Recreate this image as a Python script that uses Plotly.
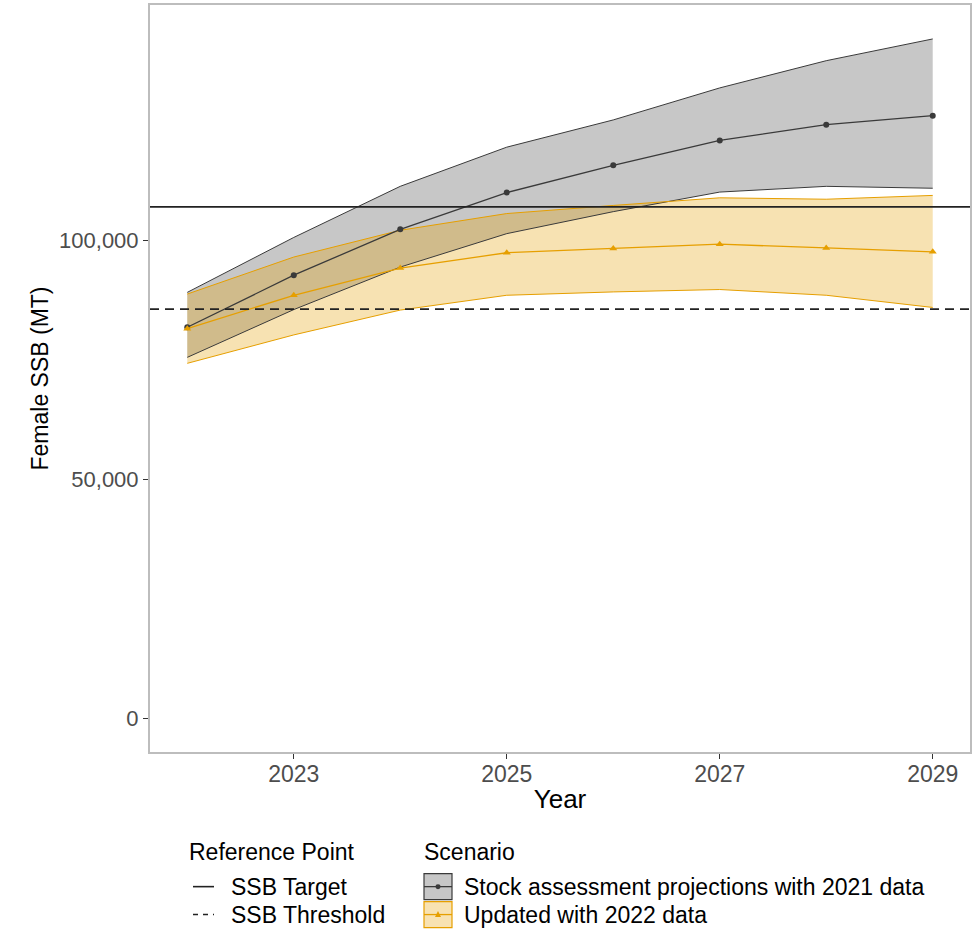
import plotly.graph_objects as go

# Projection years
years = [2022, 2023, 2024, 2025, 2026, 2027, 2028, 2029]

# Stock assessment projections with 2021 data (female SSB, MT)
ssb_2021_median = [81800, 92700, 102300, 110000, 115700, 120900, 124200, 126100]
ssb_2021_lower = [75500, 85500, 94400, 101400, 106000, 110100, 111300, 110900]
ssb_2021_upper = [89100, 100600, 111300, 119500, 125200, 131900, 137600, 142150]

# Updated with 2022 data
ssb_2022_median = [81500, 88500, 94200, 97400, 98300, 99200, 98400, 97600]
ssb_2022_lower = [74250, 80200, 85400, 88500, 89200, 89700, 88500, 85950]
ssb_2022_upper = [88750, 96500, 102100, 105600, 107300, 108900, 108600, 109400]

# Reference points
ssb_target = 107000
ssb_threshold = 85600

x_ticks = [2023, 2025, 2027, 2029]
y_ticks = [0, 50000, 100000]

scenario_names = ["Stock assessment projections with 2021 data", "Updated with 2022 data"]
ref_names = ["SSB Target", "SSB Threshold"]

GRAY_LINE = "#3a3a3a"
GRAY_FILL = "rgba(0,0,0,0.22)"
ORANGE = "#E69F00"
ORANGE_FILL = "rgba(230,159,0,0.30)"
FONT = "Liberation Sans, Arial, sans-serif"
LEGEND_SIZE = 23

fig = go.Figure()

# Uncertainty ribbons
for lo, hi, fill in [(ssb_2021_lower, ssb_2021_upper, GRAY_FILL),
                     (ssb_2022_lower, ssb_2022_upper, ORANGE_FILL)]:
    fig.add_trace(go.Scatter(x=years, y=lo, mode="lines", line=dict(width=0),
                             hoverinfo="skip", showlegend=False))
    fig.add_trace(go.Scatter(x=years, y=hi, mode="lines", line=dict(width=0),
                             fill="tonexty", fillcolor=fill,
                             hoverinfo="skip", showlegend=False))

# Ribbon edges
for series, col in [(ssb_2021_lower, GRAY_LINE), (ssb_2021_upper, GRAY_LINE),
                    (ssb_2022_lower, ORANGE), (ssb_2022_upper, ORANGE)]:
    fig.add_trace(go.Scatter(x=years, y=series, mode="lines",
                             line=dict(color=col, width=1),
                             hoverinfo="skip", showlegend=False))

# Median projections
fig.add_trace(go.Scatter(x=years, y=ssb_2021_median, mode="lines+markers",
                         name=scenario_names[0],
                         line=dict(color=GRAY_LINE, width=1.3),
                         marker=dict(symbol="circle", size=6, color=GRAY_LINE),
                         showlegend=False))
fig.add_trace(go.Scatter(x=years, y=ssb_2022_median, mode="lines+markers",
                         name=scenario_names[1],
                         line=dict(color=ORANGE, width=1.3),
                         marker=dict(symbol="triangle-up", size=7, color=ORANGE),
                         showlegend=False))

# Reference lines
fig.add_hline(y=ssb_target, line=dict(color="#222222", width=1.6))
fig.add_hline(y=ssb_threshold, line=dict(color="#222222", width=1.6, dash="9px,6px"))

ymax = max(ssb_2021_upper)
yrange = [-0.05 * ymax, 1.05 * ymax]

fig.update_layout(
    width=977, height=930,
    margin=dict(l=150, r=7, t=3, b=178),
    plot_bgcolor="white", paper_bgcolor="white",
    font=dict(family=FONT, size=22, color="#000000"),
    showlegend=False,
    xaxis=dict(
        range=[2021.65, 2029.35], tickvals=x_ticks,
        ticktext=[str(v) for v in x_ticks],
        ticks="outside", ticklen=5, tickcolor="#333333", tickwidth=1,
        ticklabelstandoff=-5,
        tickfont=dict(size=23, color="#4d4d4d"),
        showgrid=False, zeroline=False,
        showline=True, linecolor="#bdbdbd", linewidth=2, mirror=True,
        title=dict(text="Year", font=dict(size=26), standoff=4),
    ),
    yaxis=dict(
        range=yrange, tickvals=y_ticks, tickformat=",",
        ticks="outside", ticklen=5, tickcolor="#333333", tickwidth=1,
        tickfont=dict(size=22, color="#4d4d4d"),
        showgrid=False, zeroline=False,
        showline=True, linecolor="#bdbdbd", linewidth=2, mirror=True,
        title=dict(text="Female SSB (MT)", font=dict(size=23), standoff=4),
    ),
)

# Custom legend below the plot (paper coordinates)
def px_x(p):
    return (p - 150) / 820.0


def px_y(p):
    return (752 - p) / 749.0


annotations = []
shapes = []

def label(text, x, y, size=LEGEND_SIZE):
    annotations.append(dict(text=text, x=px_x(x), y=px_y(y), xref="paper", yref="paper",
                            xanchor="left", yanchor="middle", showarrow=False,
                            font=dict(size=size, color="#000000", family=FONT)))

label("Reference Point", 187, 852)
label("Scenario", 422, 852)

# Reference line keys
shapes.append(dict(type="line", xref="paper", yref="paper",
                   x0=px_x(193), x1=px_x(214), y0=px_y(887), y1=px_y(887),
                   line=dict(color="#222222", width=1.6)))
shapes.append(dict(type="line", xref="paper", yref="paper",
                   x0=px_x(193), x1=px_x(214), y0=px_y(915), y1=px_y(915),
                   line=dict(color="#222222", width=1.6, dash="5px,5px")))
label(ref_names[0], 229, 887)
label(ref_names[1], 229, 915)

# Scenario keys: filled box with line and marker
for i, (fill, col, sym) in enumerate([("#c7c7c7", GRAY_LINE, "circle"),
                                       ("#f8e2b2", ORANGE, "triangle")]):
    cy = 887 + 28 * i
    shapes.append(dict(type="rect", xref="paper", yref="paper",
                       x0=px_x(424), x1=px_x(452), y0=px_y(cy - 13), y1=px_y(cy + 13),
                       fillcolor=fill, line=dict(color=col, width=1.2)))
    shapes.append(dict(type="line", xref="paper", yref="paper",
                       x0=px_x(424), x1=px_x(452), y0=px_y(cy), y1=px_y(cy),
                       line=dict(color=col, width=1.3)))
    if sym == "circle":
        shapes.append(dict(type="circle", xref="paper", yref="paper",
                           x0=px_x(435.5), x1=px_x(440.5), y0=px_y(cy - 2.5), y1=px_y(cy + 2.5),
                           fillcolor=col, line=dict(color=col, width=0)))
    else:
        x0, x1, xm = px_x(435), px_x(441), px_x(438)
        y0, y1 = px_y(cy + 2.5), px_y(cy - 3.5)
        shapes.append(dict(type="path", xref="paper", yref="paper",
                           path=f"M {x0} {y0} L {x1} {y0} L {xm} {y1} Z",
                           fillcolor=col, line=dict(color=col, width=0)))
    label(scenario_names[i], 462, cy)

fig.update_layout(annotations=annotations, shapes=list(fig.layout.shapes) + shapes)

fig.write_html("out.html")
